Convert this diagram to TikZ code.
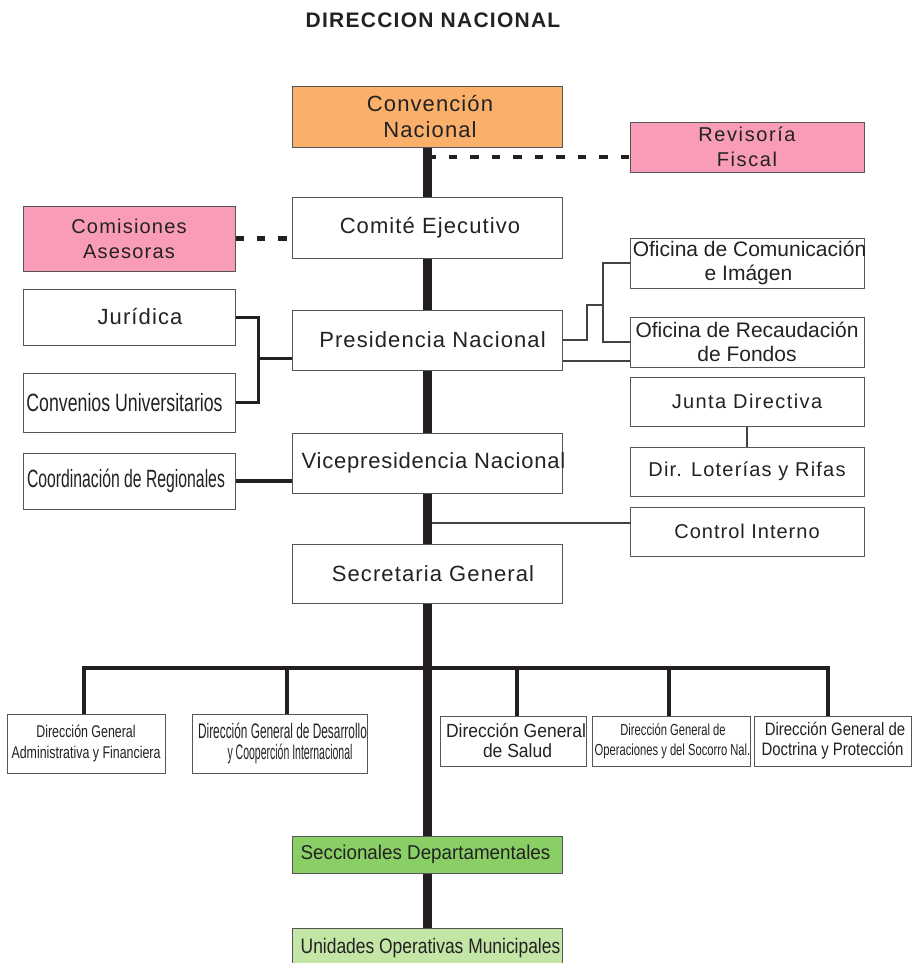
\documentclass[tikz,border=0pt]{standalone}
\usepackage{fontspec}
\setmainfont{Liberation Sans}
\usetikzlibrary{backgrounds}

\definecolor{ink}{HTML}{231F20}
\definecolor{edge}{HTML}{555555}
\definecolor{txt}{HTML}{222222}
\definecolor{orangebox}{HTML}{FAB06B}
\definecolor{pinkbox}{HTML}{F99CB7}
\definecolor{greenbox}{HTML}{8ACF65}
\definecolor{palegreen}{HTML}{C3E6A6}

% condensed text, horizontal nudge of a line, font size
\newcommand\sq[2]{{\addfontfeatures{FakeStretch=#1}#2}}
\newcommand\nudge[2]{\makebox[0pt]{\hspace*{#1}#2}}
\newcommand\fs[2]{\fontsize{#1}{#2}\selectfont}

\begin{document}
\begin{tikzpicture}[x=1pt,y=-1pt,
  orgbox/.style={draw=edge,line width=0.9pt,fill=white,inner sep=0pt,outer sep=0pt,align=center,text=txt},
  center col/.style={orgbox,minimum width=270pt,minimum height=60pt,font=\fs{22}{26}\addfontfeatures{LetterSpace=5}},
  side col/.style={orgbox,minimum width=212pt},
  right col/.style={orgbox,minimum width=234pt,minimum height=49pt},
  spine/.style={draw=ink,line width=9pt},
  busline/.style={draw=ink,line width=4pt},
  dropline/.style={draw=ink,line width=4.5pt},
  feeder/.style={draw=ink,line width=3pt},
  advisory/.style={draw=ink,line width=4.5pt,dash pattern=on 8.5pt off 13pt},
  thinlink/.style={draw=ink!85,line width=1.1pt},
]
\useasboundingbox (0,0) rectangle (912,963);

% title
\node[text=txt,font=\fs{21}{25}\bfseries\addfontfeatures{LetterSpace=6}] (title) at (433,20) {DIRECCION NACIONAL};

% central column
\node[center col,fill=orangebox,minimum height=61pt] (conv) at (427,116.5) {\nudge{6pt}{Convención}\\\nudge{6pt}{Nacional}};
\node[center col,minimum height=61pt] (com) at (427,228) {\nudge{6pt}{Comité Ejecutivo}};
\node[center col] (pres) at (427,340) {\nudge{11pt}{Presidencia Nacional}};
\node[center col,font=\fs{22}{26}\addfontfeatures{LetterSpace=3.5}] (vice) at (427,463) {\nudge{13pt}{Vicepresidencia Nacional}};
\node[center col,minimum height=59pt] (sec) at (427,573.5) {\nudge{12pt}{Secretaria General}};
\node[orgbox,fill=greenbox,minimum width=270pt,minimum height=37pt,font=\fs{20}{24}\addfontfeatures{FakeStretch=0.94}] (secc) at (427,854.5) {\nudge{-3pt}{Seccionales Departamentales}};
\node[orgbox,fill=palegreen,minimum width=270pt,minimum height=40pt,font=\fs{21}{24}\addfontfeatures{FakeStretch=0.83}] (unid) at (427,948) {\nudge{7pt}{Unidades Operativas Municipales}};

% left column
\node[side col,fill=pinkbox,minimum height=65pt,font=\fs{20}{25}\addfontfeatures{LetterSpace=6}] (cas) at (129,238.5) {Comisiones\\Asesoras};
\node[side col,minimum height=56pt,font=\fs{22}{24}\addfontfeatures{LetterSpace=5}] (jur) at (129,317) {\nudge{22pt}{Jurídica}};
\node[side col,minimum height=59pt,font=\fs{25}{28}\addfontfeatures{FakeStretch=0.71}] (cvu) at (129,402.5) {\nudge{-9pt}{Convenios Universitarios}};
\node[side col,minimum height=56pt,font=\fs{25}{28}\addfontfeatures{FakeStretch=0.63}] (coord) at (129,481) {\nudge{-6pt}{Coordinación de Regionales}};

% right column
\node[right col,fill=pinkbox,minimum height=50pt,font=\fs{20}{25}\addfontfeatures{LetterSpace=8}] (rev) at (747,147) {Revisoría\\Fiscal};
\node[right col,minimum height=50pt,font=\fs{21}{24}] (ofc) at (747,263) {\nudge{5pt}{Oficina de Comunicación}\\\nudge{3pt}{e Imágen}};
\node[right col,minimum height=50pt,font=\fs{21}{24}] (ofr) at (747,342) {Oficina de Recaudación\\de Fondos};
\node[right col,font=\fs{20}{24}\addfontfeatures{LetterSpace=7}] (junta) at (747,401.5) {Junta Directiva};
\node[right col,font=\fs{20}{24}\addfontfeatures{LetterSpace=6}] (lot) at (747,471.5) {Dir. Loterías y Rifas};
\node[right col,font=\fs{20}{24}\addfontfeatures{LetterSpace=5}] (ctrl) at (747,531.5) {Control Interno};

% general directorates
\node[orgbox,minimum width=158pt,minimum height=59pt,font=\fs{17}{21}\addfontfeatures{FakeStretch=0.73}] (d1) at (86,743.5) {Dirección General\\Administrativa y Financiera};
\node[orgbox,minimum width=175pt,minimum height=59pt,font=\fs{21}{21}] (d2) at (279.5,743.5) {\sq{0.565}{\nudge{6pt}{Dirección General de Desarrollo}}\\\sq{0.5}{\nudge{21pt}{y Cooperción Internacional}}};
\node[orgbox,minimum width=146pt,minimum height=50pt,font=\fs{19}{20}\addfontfeatures{FakeStretch=0.92}] (d3) at (513,741) {\nudge{6pt}{Dirección General}\\\nudge{9pt}{de Salud}};
\node[orgbox,minimum width=158pt,minimum height=50pt,font=\fs{16}{20}\addfontfeatures{FakeStretch=0.7}] (d4) at (671,741) {\nudge{4pt}{Dirección General de}\\\nudge{3pt}{Operaciones y del Socorro Nal.}};
\node[orgbox,minimum width=157pt,minimum height=50pt,font=\fs{18}{20}\addfontfeatures{FakeStretch=0.83}] (d5) at (832.5,741) {\nudge{5pt}{Dirección General de}\\Doctrina y Protección};

% junction points
\coordinate (rvj) at (427,157);
\coordinate (brk) at (258,358);
\coordinate (pk1) at (587,305);
\coordinate (pk2) at (603,305);
\coordinate (lvlA) at (0,361);
\coordinate (lvlB) at (0,523);
\coordinate (busL) at (82,668);
\coordinate (busR) at (830,668);

\begin{scope}[on background layer]
  \draw[advisory] (rvj) -- (rvj -| rev.west);
  \draw[advisory] (cas.east) -- (cas.east -| com.west);
  \draw[thinlink] (pres.east) -| (pk1) -- (pk2);
  \draw[thinlink] (ofc.west) -| (pk2) |- (ofr.west);
  \draw[thinlink] (pres.east |- lvlA) -- (ofr.west |- lvlA);
  \draw[thinlink] (junta.south) -- (lot.north);
  \draw[thinlink] (ctrl.west |- lvlB) -- (rvj |- lvlB);
  \draw[feeder] (jur.east) -| (brk |- cvu.east) -- (cvu.east);
  \draw[feeder] (brk) -- (brk -| pres.west);
  \draw[feeder,line width=4pt] (coord.east) -- (coord.east -| vice.west);
  \draw[spine] (conv.south) -- (unid.north);
  \draw[busline] (busL) -- (busR);
  \foreach \n/\x in {d1/84,d2/287,d3/517,d4/669,d5/828}{
    \coordinate (t\n) at (\x,668);
    \draw[dropline] (t\n) -- (t\n |- \n.north);
  }
\end{scope}
\end{tikzpicture}
\end{document}
